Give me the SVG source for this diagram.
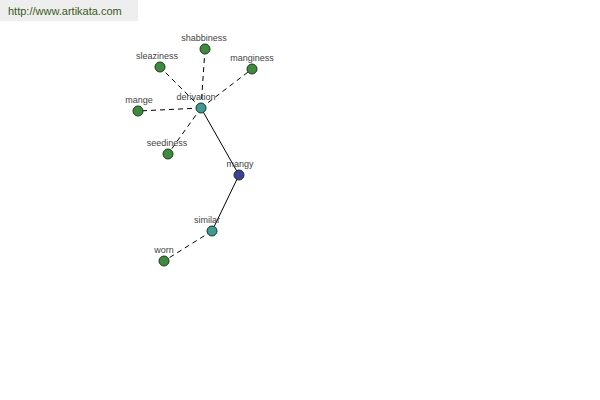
<svg xmlns="http://www.w3.org/2000/svg" width="600" height="400" viewBox="0 0 600 400">
<style>
.lbl{font-family:"Liberation Sans",Arial,sans-serif;font-size:9px;fill:#444;text-anchor:middle}
.n{stroke:#1a3a1a;stroke-width:1}
.g{fill:#3f8a3f}
.t{fill:#3f9a94}
.b{fill:#3d3f99}
.d{stroke:#000;stroke-width:1;stroke-dasharray:5,4;fill:none}
.s{stroke:#000;stroke-width:1;fill:none}
</style>
<rect x="0" y="0" width="600" height="400" fill="#fff"/>
<rect x="0" y="0" width="138" height="21" fill="#eeeeee"/>
<text x="8" y="15" font-family="Liberation Sans,Arial,sans-serif" font-size="11" fill="#3a5a1a">http://www.artikata.com</text>
<g id="connectors">
<line class="d" x1="201" y1="108" x2="205" y2="49"/>
<line class="d" x1="201" y1="108" x2="160" y2="67"/>
<line class="d" x1="201" y1="108" x2="252" y2="69"/>
<line class="d" x1="201" y1="108" x2="138" y2="111"/>
<line class="d" x1="201" y1="108" x2="168" y2="154"/>
<line class="s" x1="201" y1="108" x2="239" y2="175"/>
<line class="s" x1="239" y1="175" x2="212" y2="231"/>
<line class="d" x1="212" y1="231" x2="164" y2="261"/>
</g>
<g id="shabbiness"><circle class="n g" cx="205" cy="49" r="5"/><text class="lbl" x="204" y="41">shabbiness</text></g>
<g id="sleaziness"><circle class="n g" cx="160" cy="67" r="5"/><text class="lbl" x="157" y="59">sleaziness</text></g>
<g id="manginess"><circle class="n g" cx="252" cy="69" r="5"/><text class="lbl" x="252" y="61">manginess</text></g>
<g id="mange"><circle class="n g" cx="138" cy="111" r="5"/><text class="lbl" x="139" y="103">mange</text></g>
<g id="derivation"><circle class="n t" cx="201" cy="108" r="5"/><text class="lbl" x="196" y="100">derivation</text></g>
<g id="seediness"><circle class="n g" cx="168" cy="154" r="5"/><text class="lbl" x="167" y="146">seediness</text></g>
<g id="mangy"><circle class="n b" cx="239" cy="175" r="5"/><text class="lbl" x="240" y="167">mangy</text></g>
<g id="similar"><circle class="n t" cx="212" cy="231" r="5"/><text class="lbl" x="207" y="223">similar</text></g>
<g id="worn"><circle class="n g" cx="164" cy="261" r="5"/><text class="lbl" x="164" y="253">worn</text></g>
</svg>
